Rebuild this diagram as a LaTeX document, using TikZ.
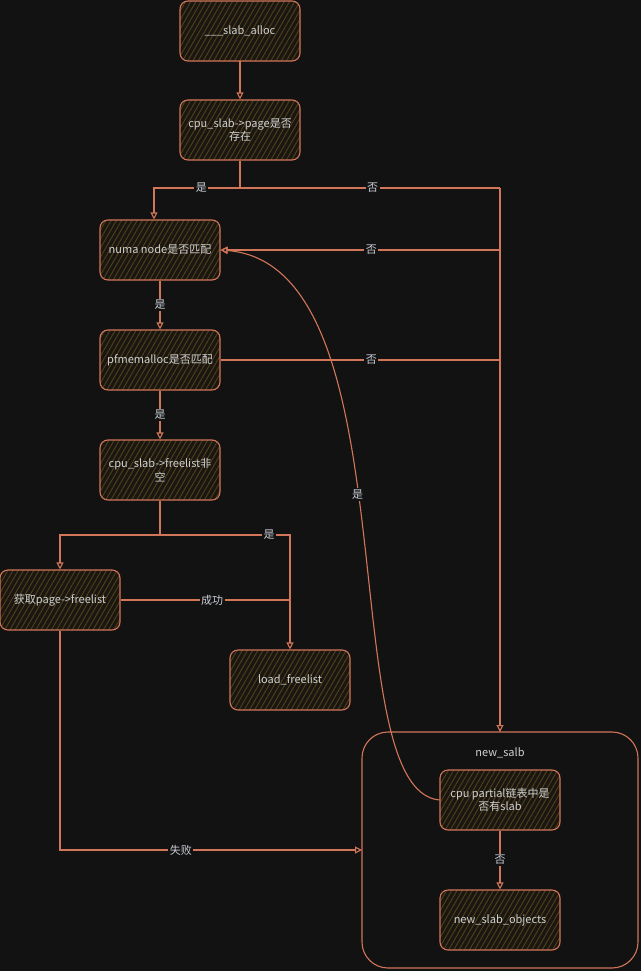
\documentclass[tikz,border=0pt]{standalone}
\usepackage{fontspec}
\setmainfont{Noto Sans CJK SC}
\usetikzlibrary{arrows.meta,patterns.meta,positioning}
\definecolor{bg}{HTML}{121212}
\definecolor{strk}{HTML}{D2765A}
\definecolor{hatch}{HTML}{52401A}
\definecolor{boxbg}{HTML}{1A1712}
\definecolor{txt}{HTML}{D0D0D0}
\definecolor{lbltxt}{HTML}{C8CCD4}
\begin{document}
\begin{tikzpicture}[x=1pt,y=-1pt,
  every node/.style={font=\fontsize{11}{13.5}\selectfont},
  box/.style={draw=strk, line width=1.1pt, rounded corners=8pt,
    minimum width=120pt, minimum height=60pt, align=center, text=txt,
    preaction={fill=boxbg},
    pattern={Lines[angle=60,distance=4.5pt,line width=0.9pt]}, pattern color=hatch},
  cont/.style={draw=strk, line width=1.1pt, rounded corners=26pt},
  conn/.style={draw=strk, line width=1.1pt},
  arr/.style={conn, -{Triangle[open,length=7pt,width=7pt]}},
  lbl/.style={fill=bg, text=lbltxt, inner sep=1.5pt}]
\fill[bg] (0,0) rectangle (641,971);
\useasboundingbox (0,0) rectangle (641,971);

% container
\draw[cont] (362,732) rectangle (638,968);
\node[text=txt] (newslab) at (500,753) {new\_salb};
\coordinate (cont-n) at (500,732);
\coordinate (cont-w) at (362,850);

% nodes
\node[box] (alloc) at (240,31) {\_\_\_slab\_alloc};
\node[box] (page) at (240,130) {cpu\_slab->page是否\\存在};
\node[box] (numa) at (160,250) {numa node是否匹配};
\node[box] (pfm) at (160,360) {pfmemalloc是否匹配};
\node[box] (freel) at (160,470) {cpu\_slab->freelist非\\空};
\node[box] (getfl) at (60,600) {获取page->freelist};
\node[box] (load) at (290,680) {load\_freelist};
\node[box] (partial) at (500,800) {cpu partial链表中是\\否有slab};
\node[box] (objs) at (500,920) {new\_slab\_objects};

% junctions
\coordinate (j1) at (240,188);
\coordinate (jl) at (154,188);
\coordinate (jr) at (500,188);
\coordinate (jn) at (500,250);
\coordinate (j2) at (160,535);

% connectors
\draw[arr] (alloc) -- (page);
\draw[conn] (page.south) -- (j1);
\draw[arr] (j1) -- node[lbl,pos=0.45]{是} (jl) -- (jl |- numa.north);
\draw[conn] (j1) -- node[lbl,pos=0.51]{否} (jr);
\draw[arr] (jr) -- (cont-n);
\draw[arr] (jn) -- node[lbl,pos=0.46]{否} (numa.east);
\draw[arr] (numa) -- node[lbl]{是} (pfm);
\draw[conn] (pfm.east) -- node[lbl,pos=0.54]{否} (pfm.east -| jr);
\draw[arr] (pfm) -- node[lbl]{是} (freel);
\draw[conn] (freel.south) -- (j2);
\draw[arr] (j2) -| (getfl.north);
\draw[arr] (j2) -- node[lbl,pos=0.84]{是} (j2 -| load.north) -- (load.north);
\draw[conn] (getfl.east) -- node[lbl,pos=0.54]{成功} (getfl.east -| load.north);
\draw[arr] (getfl.south) |- node[lbl,pos=0.70]{失败} (cont-w);
\draw[arr] (partial) -- node[lbl]{否} (objs);
\draw[arr] (partial.west) .. controls (330,790) and (415,265) .. node[lbl,pos=0.54]{是} (numa.east);
\end{tikzpicture}
\end{document}
